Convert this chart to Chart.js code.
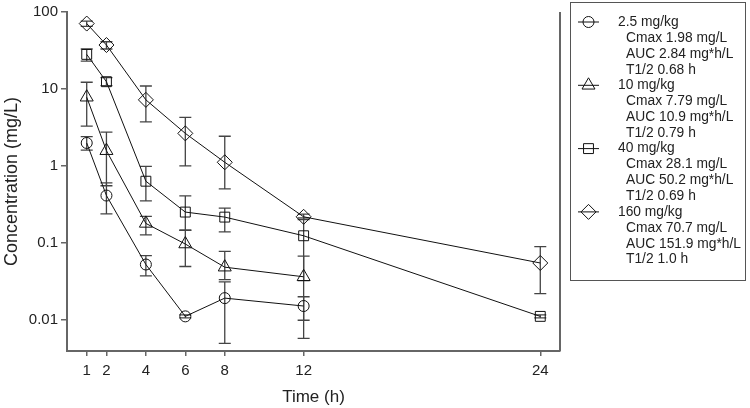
<!DOCTYPE html>
<html>
<head>
<meta charset="utf-8">
<script src="https://cdn.jsdelivr.net/npm/chart.js@4.4.1/dist/chart.umd.min.js"></script>
<style>
  html, body { margin: 0; padding: 0; background: #fff; }
  #wrap { width: 750px; height: 408px; }
</style>
</head>
<body>
<div id="wrap"><canvas id="chart" width="750" height="408"></canvas></div>
<script>
// sampling times (h)
const timesShort = [1, 2, 4, 6, 8, 12];
const timesLong = [1, 2, 4, 6, 8, 12, 24];
const xTicks = [1, 2, 4, 6, 8, 12, 24];
const yTicks = [0.01, 0.1, 1, 10, 100];

// mean concentrations (mg/L) and error bar ends
const conc25 = [1.98, 0.41, 0.052, 0.011, 0.019, 0.015];
const low25 = [1.6, 0.237, 0.037, 0.0105, 0.0049, 0.0098];
const high25 = [2.4, 0.6, 0.068, 0.0115, 0.031, 0.0198];

const conc10 = [7.79, 1.57, 0.178, 0.096, 0.048, 0.036];
const low10 = [3.27, 0.55, 0.126, 0.049, 0.033, 0.0057];
const high10 = [12.2, 2.74, 0.22, 0.145, 0.077, 0.067];

const conc40 = [28.1, 12.4, 0.63, 0.25, 0.215, 0.123, 0.011];
const low40 = [23, 11, 0.35, 0.145, 0.138, 0.032, 0.0105];
const high40 = [33, 14, 0.98, 0.405, 0.282, 0.21, 0.0115];

const conc160 = [70.7, 37.2, 7.2, 2.64, 1.11, 0.217, 0.0544];
const low160 = [65, 33, 3.72, 1.0, 0.5, 0.2, 0.0217];
const high160 = [76, 41, 10.9, 4.26, 2.42, 0.235, 0.089];

// legend text
const doseLabels = ['2.5 mg/kg', '10 mg/kg', '40 mg/kg', '160 mg/kg'];
const cmaxText = ['Cmax 1.98 mg/L', 'Cmax 7.79 mg/L', 'Cmax 28.1 mg/L', 'Cmax 70.7 mg/L'];
const aucText = ['AUC 2.84 mg*h/L', 'AUC 10.9 mg*h/L', 'AUC 50.2 mg*h/L', 'AUC 151.9 mg*h/L'];
const halfText = ['T1/2 0.68 h', 'T1/2 0.79 h', 'T1/2 0.69 h', 'T1/2 1.0 h'];

const FONT = '"Liberation Sans", Arial, sans-serif';
const AXIS = '#666';

function points(times, vals) {
  return vals.map((v, i) => ({ x: times[i], y: v }));
}

function series(label, times, vals, lo, hi, style, radius) {
  return {
    label: label,
    data: points(times, vals),
    errLow: lo,
    errHigh: hi,
    borderColor: '#111',
    borderWidth: 1,
    backgroundColor: 'rgba(0,0,0,0)',
    pointStyle: style,
    pointRadius: radius,
    pointBorderColor: '#111',
    pointBorderWidth: 1,
    pointBackgroundColor: 'rgba(0,0,0,0)',
    tension: 0,
    clip: false
  };
}

const errorBars = {
  id: 'errorBars',
  beforeDatasetsDraw(chart) {
    const ctx = chart.ctx;
    const ys = chart.scales.y;
    ctx.save();
    ctx.strokeStyle = '#444';
    ctx.lineWidth = 1.3;
    chart.data.datasets.forEach((ds, i) => {
      const meta = chart.getDatasetMeta(i);
      meta.data.forEach((pt, j) => {
        const y1 = ys.getPixelForValue(ds.errLow[j]);
        const y2 = ys.getPixelForValue(ds.errHigh[j]);
        ctx.beginPath();
        ctx.moveTo(pt.x, y1); ctx.lineTo(pt.x, y2);
        ctx.moveTo(pt.x - 6, y1); ctx.lineTo(pt.x + 6, y1);
        ctx.moveTo(pt.x - 6, y2); ctx.lineTo(pt.x + 6, y2);
        ctx.stroke();
      });
    });
    ctx.restore();
  },
  afterDraw(chart) {
    const ctx = chart.ctx;
    const a = chart.chartArea;
    ctx.save();
    // right frame of the plot
    ctx.strokeStyle = AXIS;
    ctx.lineWidth = 2;
    ctx.beginPath();
    ctx.moveTo(a.right, a.top);
    ctx.lineTo(a.right, a.bottom);
    ctx.stroke();

    // legend box
    ctx.strokeStyle = '#555';
    ctx.lineWidth = 1;
    ctx.strokeRect(570.5, 2.5, 175, 278);
    ctx.textBaseline = 'middle';
    chart.data.datasets.forEach((ds, i) => {
      const y0 = 22 + i * 63.3;
      ctx.strokeStyle = '#111';
      ctx.lineWidth = 1;
      ctx.beginPath();
      ctx.moveTo(578, y0); ctx.lineTo(599, y0);
      ctx.stroke();
      ctx.fillStyle = 'rgba(0,0,0,0)';
      Chart.helpers.drawPoint(ctx, {
        pointStyle: ds.pointStyle, radius: ds.pointRadius, borderWidth: 1, rotation: 0
      }, 588.5, y0);
      ctx.font = '13.8px ' + FONT;
      ctx.fillStyle = '#222';
      ctx.fillText(doseLabels[i], 618, y0);
      ctx.fillText(cmaxText[i], 626, y0 + 15.9);
      ctx.fillText(aucText[i], 626, y0 + 31.8);
      ctx.fillText(halfText[i], 626, y0 + 47.7);
    });
    ctx.restore();
  }
};

new Chart(document.getElementById('chart'), {
  type: 'line',
  data: {
    datasets: [
      series(doseLabels[0], timesShort, conc25, low25, high25, 'circle', 5.5),
      series(doseLabels[1], timesShort, conc10, low10, high10, 'triangle', 7.5),
      series(doseLabels[2], timesLong, conc40, low40, high40, 'rect', 7),
      series(doseLabels[3], timesLong, conc160, low160, high160, 'rectRot', 7.5)
    ]
  },
  options: {
    responsive: false,
    animation: false,
    layout: { padding: { top: 5, right: 190, left: 0, bottom: 0 } },
    plugins: { legend: { display: false }, tooltip: { enabled: false } },
    scales: {
      x: {
        type: 'linear',
        min: 0,
        max: 25,
        afterBuildTicks: s => { s.ticks = xTicks.map(v => ({ value: v })); },
        afterFit: s => { s.height = 57; },
        ticks: { color: '#222', font: { family: FONT, size: 15 }, padding: 6, maxRotation: 0,
          callback: v => String(v) },
        grid: { drawOnChartArea: false, drawTicks: true, tickLength: 5, color: AXIS, lineWidth: 1.5 },
        border: { color: AXIS, width: 2 },
        title: { display: true, text: 'Time (h)', color: '#222', font: { family: FONT, size: 17 },
          padding: { top: 0, bottom: 0 } }
      },
      y: {
        type: 'logarithmic',
        min: 0.0039,
        max: 100,
        afterBuildTicks: s => { s.ticks = yTicks.map(v => ({ value: v })); },
        afterFit: s => { s.width = 67; },
        ticks: { color: '#222', font: { family: FONT, size: 15 }, padding: 3,
          callback: v => String(v) },
        grid: { drawOnChartArea: false, drawTicks: true, tickLength: 6, color: AXIS, lineWidth: 1.5 },
        border: { color: AXIS, width: 2 },
        title: { display: true, text: 'Concentration (mg/L)', color: '#222', font: { family: FONT, size: 18 },
          padding: { top: 1, bottom: 0 } }
      }
    }
  },
  plugins: [errorBars]
});
</script>
</body>
</html>
